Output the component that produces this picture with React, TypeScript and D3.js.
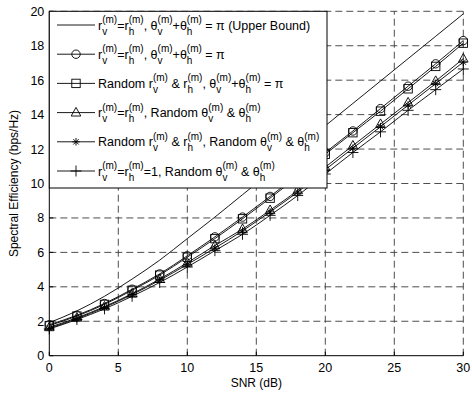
import { useEffect, useRef } from "react"
import * as d3 from "d3"

// SNR points (dB)
const snr = [0, 2, 4, 6, 8, 10, 12, 14, 16, 18, 20, 22, 24, 26, 28, 30]

// spectral efficiency per scheme (bps/Hz)
const upperBound = [1.92, 2.6, 3.45, 4.45, 5.55, 6.8, 8.05, 9.35, 10.65, 12.0, 13.35, 14.65, 15.95, 17.25, 18.55, 19.85]
const equalPi = [1.8, 2.35, 3.03, 3.86, 4.75, 5.8, 6.9, 8.05, 9.25, 10.5, 11.8, 13.05, 14.35, 15.65, 16.95, 18.3]
const randRPi = [1.75, 2.3, 2.98, 3.8, 4.68, 5.72, 6.8, 7.95, 9.15, 10.4, 11.7, 12.95, 14.2, 15.5, 16.8, 18.15]
const equalRandTheta = [1.65, 2.2, 2.85, 3.6, 4.45, 5.4, 6.4, 7.35, 8.45, 9.6, 10.95, 12.2, 13.45, 14.7, 15.95, 17.25]
const randRRandTheta = [1.6, 2.15, 2.8, 3.55, 4.38, 5.3, 6.25, 7.25, 8.35, 9.5, 10.8, 12.05, 13.3, 14.55, 15.8, 17.05]
const unitRRandTheta = [1.55, 2.1, 2.72, 3.45, 4.25, 5.15, 6.1, 7.05, 8.15, 9.3, 10.55, 11.8, 13.0, 14.25, 15.45, 16.65]

const xTicks = [0, 5, 10, 15, 20, 25, 30]
const yTicks = [0, 2, 4, 6, 8, 10, 12, 14, 16, 18, 20]

// legend labels: plain strings or [base, subscript, superscript]
const R_V = ["r", "v", "(m)"]
const R_H = ["r", "h", "(m)"]
const T_V = ["θ", "v", "(m)"]
const T_H = ["θ", "h", "(m)"]

const series = [
  { values: upperBound, marker: "none", label: [R_V, "=", R_H, ", ", T_V, "+", T_H, " = π (Upper Bound)"] },
  { values: equalPi, marker: "circle", label: [R_V, "=", R_H, ", ", T_V, "+", T_H, " = π"] },
  { values: randRPi, marker: "square", label: ["Random ", R_V, " & ", R_H, ", ", T_V, "+", T_H, " = π"] },
  { values: equalRandTheta, marker: "triangle", label: [R_V, "=", R_H, ", Random ", T_V, " & ", T_H] },
  { values: randRRandTheta, marker: "star", label: ["Random ", R_V, " & ", R_H, ", Random ", T_V, " & ", T_H] },
  { values: unitRRandTheta, marker: "plus", label: [R_V, "=", R_H, "=1, Random ", T_V, " & ", T_H] },
]

const FONT = "'Liberation Sans', Arial, Helvetica, sans-serif"

function drawMarker(g, type, x, y) {
  const s = g.append("g").attr("transform", `translate(${x},${y})`)
  const st = (sel) => sel.attr("fill", "none").attr("stroke", "#000").attr("stroke-width", 0.9)
  if (type === "circle") st(s.append("circle").attr("r", 4.2))
  if (type === "square") st(s.append("rect").attr("x", -4.2).attr("y", -4.2).attr("width", 8.4).attr("height", 8.4))
  if (type === "triangle") st(s.append("path").attr("d", "M0,-5.2L4.8,3.4L-4.8,3.4Z"))
  if (type === "star") st(s.append("path").attr("d", "M0,-3.8V3.8M-3.8,0H3.8M-2.7,-2.7L2.7,2.7M-2.7,2.7L2.7,-2.7"))
  if (type === "plus") st(s.append("path").attr("d", "M0,-5.5V5.5M-5.5,0H5.5"))
}

const App = () => {
  const svgRef = useRef()

  useEffect(() => {
    document.body.style.margin = "0"
    const svg = d3.select(svgRef.current)
    svg.selectAll("*").remove()

    const width = 472
    const height = 393
    const left = 49.3
    const right = 463.3
    const top = 11.3
    const bottom = 355.7

    const x = d3.scaleLinear().domain([0, 30]).range([left, right])
    const y = d3.scaleLinear().domain([0, 20]).range([bottom, top])

    svg.attr("width", width).attr("height", height).style("font-family", FONT)

    svg.append("rect").attr("width", width).attr("height", height).attr("fill", "#fff")

    // dashed grid
    const grid = svg.append("g").attr("stroke", "#3a3a3a").attr("stroke-width", 0.9).attr("stroke-dasharray", "7,4")
    xTicks.forEach((t) => {
      if (t === 0) return
      grid.append("line").attr("x1", x(t)).attr("x2", x(t)).attr("y1", bottom).attr("y2", top)
    })
    yTicks.forEach((t) => {
      if (t === 0) return
      grid.append("line").attr("x1", left).attr("x2", right).attr("y1", y(t)).attr("y2", y(t))
    })

    // axes
    const ax = svg.append("g").attr("stroke", "#000").attr("stroke-width", 1)
    ax.append("line").attr("x1", left).attr("x2", right).attr("y1", bottom).attr("y2", bottom)
    ax.append("line").attr("x1", left).attr("x2", left).attr("y1", bottom).attr("y2", top)
    xTicks.forEach((t) => {
      ax.append("line").attr("x1", x(t)).attr("x2", x(t)).attr("y1", bottom).attr("y2", bottom - 4)
    })
    yTicks.forEach((t) => {
      ax.append("line").attr("x1", left).attr("x2", left + 4).attr("y1", y(t)).attr("y2", y(t))
    })

    svg
      .append("g")
      .selectAll("text")
      .data(xTicks)
      .enter()
      .append("text")
      .attr("x", (d) => x(d))
      .attr("y", bottom + 16)
      .attr("text-anchor", "middle")
      .style("font-size", "12.5px")
      .text((d) => d)

    svg
      .append("g")
      .selectAll("text")
      .data(yTicks)
      .enter()
      .append("text")
      .attr("x", left - 5)
      .attr("y", (d) => y(d) + 4.5)
      .attr("text-anchor", "end")
      .style("font-size", "12.5px")
      .text((d) => d)

    svg
      .append("text")
      .attr("x", (left + right) / 2)
      .attr("y", 387)
      .attr("text-anchor", "middle")
      .style("font-size", "12px")
      .text("SNR (dB)")

    svg
      .append("text")
      .attr("transform", `translate(18,${(top + bottom) / 2}) rotate(-90)`)
      .attr("text-anchor", "middle")
      .style("font-size", "12px")
      .text("Spectral Efficiency (bps/Hz)")

    // curves
    const line = d3
      .line()
      .x((d, i) => x(snr[i]))
      .y((d) => y(d))
      .curve(d3.curveMonotoneX)

    const plot = svg.append("g")
    series.forEach((s) => {
      plot.append("path").attr("d", line(s.values)).attr("fill", "none").attr("stroke", "#000").attr("stroke-width", 0.9)
      if (s.marker !== "none") {
        s.values.forEach((v, i) => drawMarker(plot, s.marker, x(snr[i]), y(v)))
      }
    })

    // legend
    const lg = svg.append("g")
    const lx0 = left
    const lx1 = 327
    const ly0 = top
    const ly1 = 188
    lg.append("rect")
      .attr("x", lx0)
      .attr("y", ly0)
      .attr("width", lx1 - lx0)
      .attr("height", ly1 - ly0)
      .attr("fill", "#fff")
      .attr("stroke", "#000")
      .attr("stroke-width", 1)

    series.forEach((s, i) => {
      const cy = 25 + i * 29.2
      lg.append("line").attr("x1", 57).attr("x2", 95).attr("y1", cy).attr("y2", cy).attr("stroke", "#000").attr("stroke-width", 0.9)
      if (s.marker !== "none") drawMarker(lg, s.marker, 76, cy)

      let cx = 98
      const base = cy + 4.5
      s.label.forEach((part) => {
        if (typeof part === "string") {
          const t = lg.append("text").attr("x", cx).attr("y", base).style("font-size", "12.5px").style("white-space", "pre").text(part)
          cx += t.node().getComputedTextLength()
        } else {
          const b = lg.append("text").attr("x", cx).attr("y", base).style("font-size", "12.5px").text(part[0])
          cx += b.node().getComputedTextLength()
          const sub = lg.append("text").attr("x", cx).attr("y", base + 5).style("font-size", "10px").text(part[1])
          const sup = lg.append("text").attr("x", cx).attr("y", base - 6.5).style("font-size", "10px").text(part[2])
          cx += Math.max(sub.node().getComputedTextLength(), sup.node().getComputedTextLength())
        }
      })
    })
  }, [])

  return <svg ref={svgRef} style={{ display: "block" }}></svg>
}

export default App
